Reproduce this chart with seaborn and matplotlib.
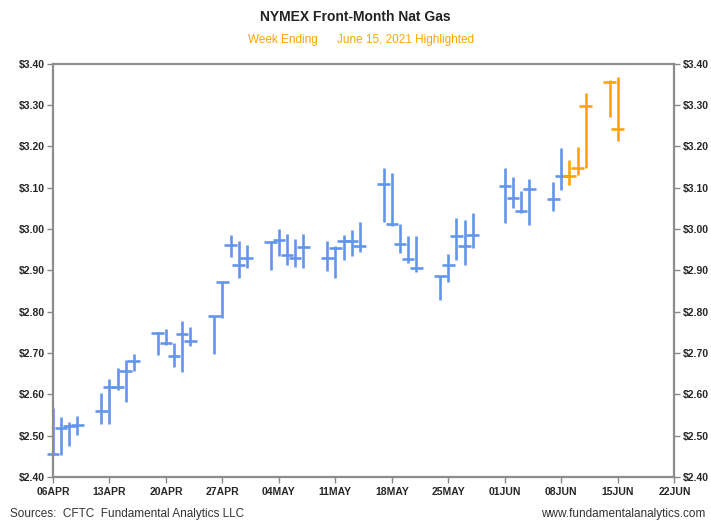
import pandas as pd
import numpy as np
import matplotlib
matplotlib.use('Agg')
import matplotlib.pyplot as plt
import matplotlib.dates as mdates
from matplotlib.ticker import FuncFormatter, MultipleLocator
import seaborn as sns

# daily high / low / close, front-month contract
dates = ['2021-04-06', '2021-04-07', '2021-04-08', '2021-04-09',
         '2021-04-12', '2021-04-13', '2021-04-14', '2021-04-15', '2021-04-16',
         '2021-04-19', '2021-04-20', '2021-04-21', '2021-04-22', '2021-04-23',
         '2021-04-26', '2021-04-27', '2021-04-28', '2021-04-29', '2021-04-30',
         '2021-05-03', '2021-05-04', '2021-05-05', '2021-05-06', '2021-05-07',
         '2021-05-10', '2021-05-11', '2021-05-12', '2021-05-13', '2021-05-14',
         '2021-05-17', '2021-05-18', '2021-05-19', '2021-05-20', '2021-05-21',
         '2021-05-24', '2021-05-25', '2021-05-26', '2021-05-27', '2021-05-28',
         '2021-06-01', '2021-06-02', '2021-06-03', '2021-06-04',
         '2021-06-07', '2021-06-08', '2021-06-09', '2021-06-10', '2021-06-11',
         '2021-06-14', '2021-06-15']
highs = [2.566, 2.545, 2.533, 2.548,
         2.602, 2.636, 2.663, 2.683, 2.697,
         2.750, 2.757, 2.723, 2.777, 2.762,
         2.790, 2.873, 2.986, 2.970, 2.962,
         2.972, 3.000, 2.988, 2.975, 2.988,
         2.972, 2.958, 2.986, 2.998, 3.016,
         3.148, 3.135, 3.013, 2.983, 2.982,
         2.887, 2.939, 3.026, 3.022, 3.040,
         3.148, 3.126, 3.091, 3.121,
         3.114, 3.197, 3.167, 3.199, 3.329,
         3.361, 3.369]
lows = [2.453, 2.453, 2.475, 2.501,
        2.529, 2.527, 2.610, 2.582, 2.657,
        2.695, 2.719, 2.667, 2.655, 2.717,
        2.697, 2.784, 2.933, 2.881, 2.905,
        2.901, 2.935, 2.913, 2.907, 2.905,
        2.899, 2.881, 2.925, 2.935, 2.945,
        3.018, 3.008, 2.942, 2.917, 2.895,
        2.828, 2.873, 2.925, 2.913, 2.954,
        3.014, 3.051, 3.039, 3.010,
        3.043, 3.094, 3.107, 3.131, 3.148,
        3.272, 3.213]
closes = [2.455, 2.519, 2.523, 2.525,
          2.559, 2.617, 2.617, 2.657, 2.680,
          2.748, 2.725, 2.693, 2.746, 2.730,
          2.790, 2.873, 2.962, 2.912, 2.931,
          2.968, 2.974, 2.937, 2.929, 2.957,
          2.929, 2.953, 2.972, 2.972, 2.959,
          3.110, 3.012, 2.963, 2.927, 2.905,
          2.887, 2.913, 2.983, 2.959, 2.986,
          3.105, 3.075, 3.043, 3.097,
          3.072, 3.128, 3.129, 3.148, 3.298,
          3.355, 3.241]

df = pd.DataFrame({'date': pd.to_datetime(dates), 'high': highs,
                   'low': lows, 'close': closes})
week_end = pd.Timestamp('2021-06-15')
df['week'] = np.where(df['date'] > week_end - pd.Timedelta(days=7), 'highlight', 'prior')

blue = '#6495ED'
orange = '#FFA500'
palette = {'prior': blue, 'highlight': orange}

sns.set_style('white')
plt.rcParams['font.family'] = ['Liberation Sans Narrow', 'Liberation Sans', 'DejaVu Sans']

fig = plt.figure(figsize=(7.11, 5.27), dpi=100)
ax = fig.add_axes([0.0745, 0.095, 0.874, 0.784])

ax.vlines(df['date'], df['low'], df['high'],
          colors=[palette[w] for w in df['week']], linewidth=1.9, clip_on=False)
sns.scatterplot(data=df, x='date', y='close', hue='week', palette=palette,
                marker='_', s=85, linewidth=1.9, legend=False, ax=ax, clip_on=False)

ax.set_xlim(pd.Timestamp('2021-04-06'), pd.Timestamp('2021-06-22'))
ax.set_ylim(2.40, 3.40)
ax.xaxis.set_major_locator(mdates.DayLocator(bymonthday=None, interval=7))
ax.set_xticks(pd.date_range('2021-04-06', '2021-06-22', freq='7D'))
ax.xaxis.set_major_formatter(FuncFormatter(lambda v, p: mdates.num2date(v).strftime('%d%b').upper()))
ax.yaxis.set_major_locator(MultipleLocator(0.10))
ax.yaxis.set_major_formatter(FuncFormatter(lambda v, p: f'${v:.2f}'))

ax.tick_params(axis='y', left=True, right=True, labelleft=True, labelright=True,
               direction='out', length=4, width=1, color='#888888',
               labelsize=7.5, pad=2)
ax.tick_params(axis='x', bottom=True, direction='out', length=4, width=1,
               color='#888888', labelsize=7.5, pad=3)
for lab in ax.get_xticklabels() + ax.get_yticklabels():
    lab.set_fontweight('bold')
for lab in ax.yaxis.get_ticklabels(which='major'):
    lab.set_fontweight('bold')
ax.yaxis.set_tick_params(labelright=True)
for t in ax.yaxis.get_major_ticks():
    t.label2.set_fontweight('bold')
    t.label2.set_fontsize(7.5)

for s in ax.spines.values():
    s.set_color('#8c8c8c')
    s.set_linewidth(1.6)
ax.set_xlabel('')
ax.set_ylabel('')
ax.grid(False)

fig.text(0.5, 0.968, 'NYMEX Front-Month Nat Gas', ha='center', va='center',
         fontsize=10, fontweight='bold', color='#222222')
fig.text(0.398, 0.924, 'Week Ending', ha='center', va='center',
         fontsize=8.5, color=orange)
fig.text(0.57, 0.924, 'June 15, 2021 Highlighted', ha='center', va='center',
         fontsize=8.5, color=orange)
fig.text(0.014, 0.014, 'Sources:  CFTC  Fundamental Analytics LLC', ha='left',
         va='bottom', fontsize=8.5, color='#333333')
fig.text(0.992, 0.014, 'www.fundamentalanalytics.com', ha='right',
         va='bottom', fontsize=8.5, color='#333333')

plt.savefig('out.png', dpi=100)
